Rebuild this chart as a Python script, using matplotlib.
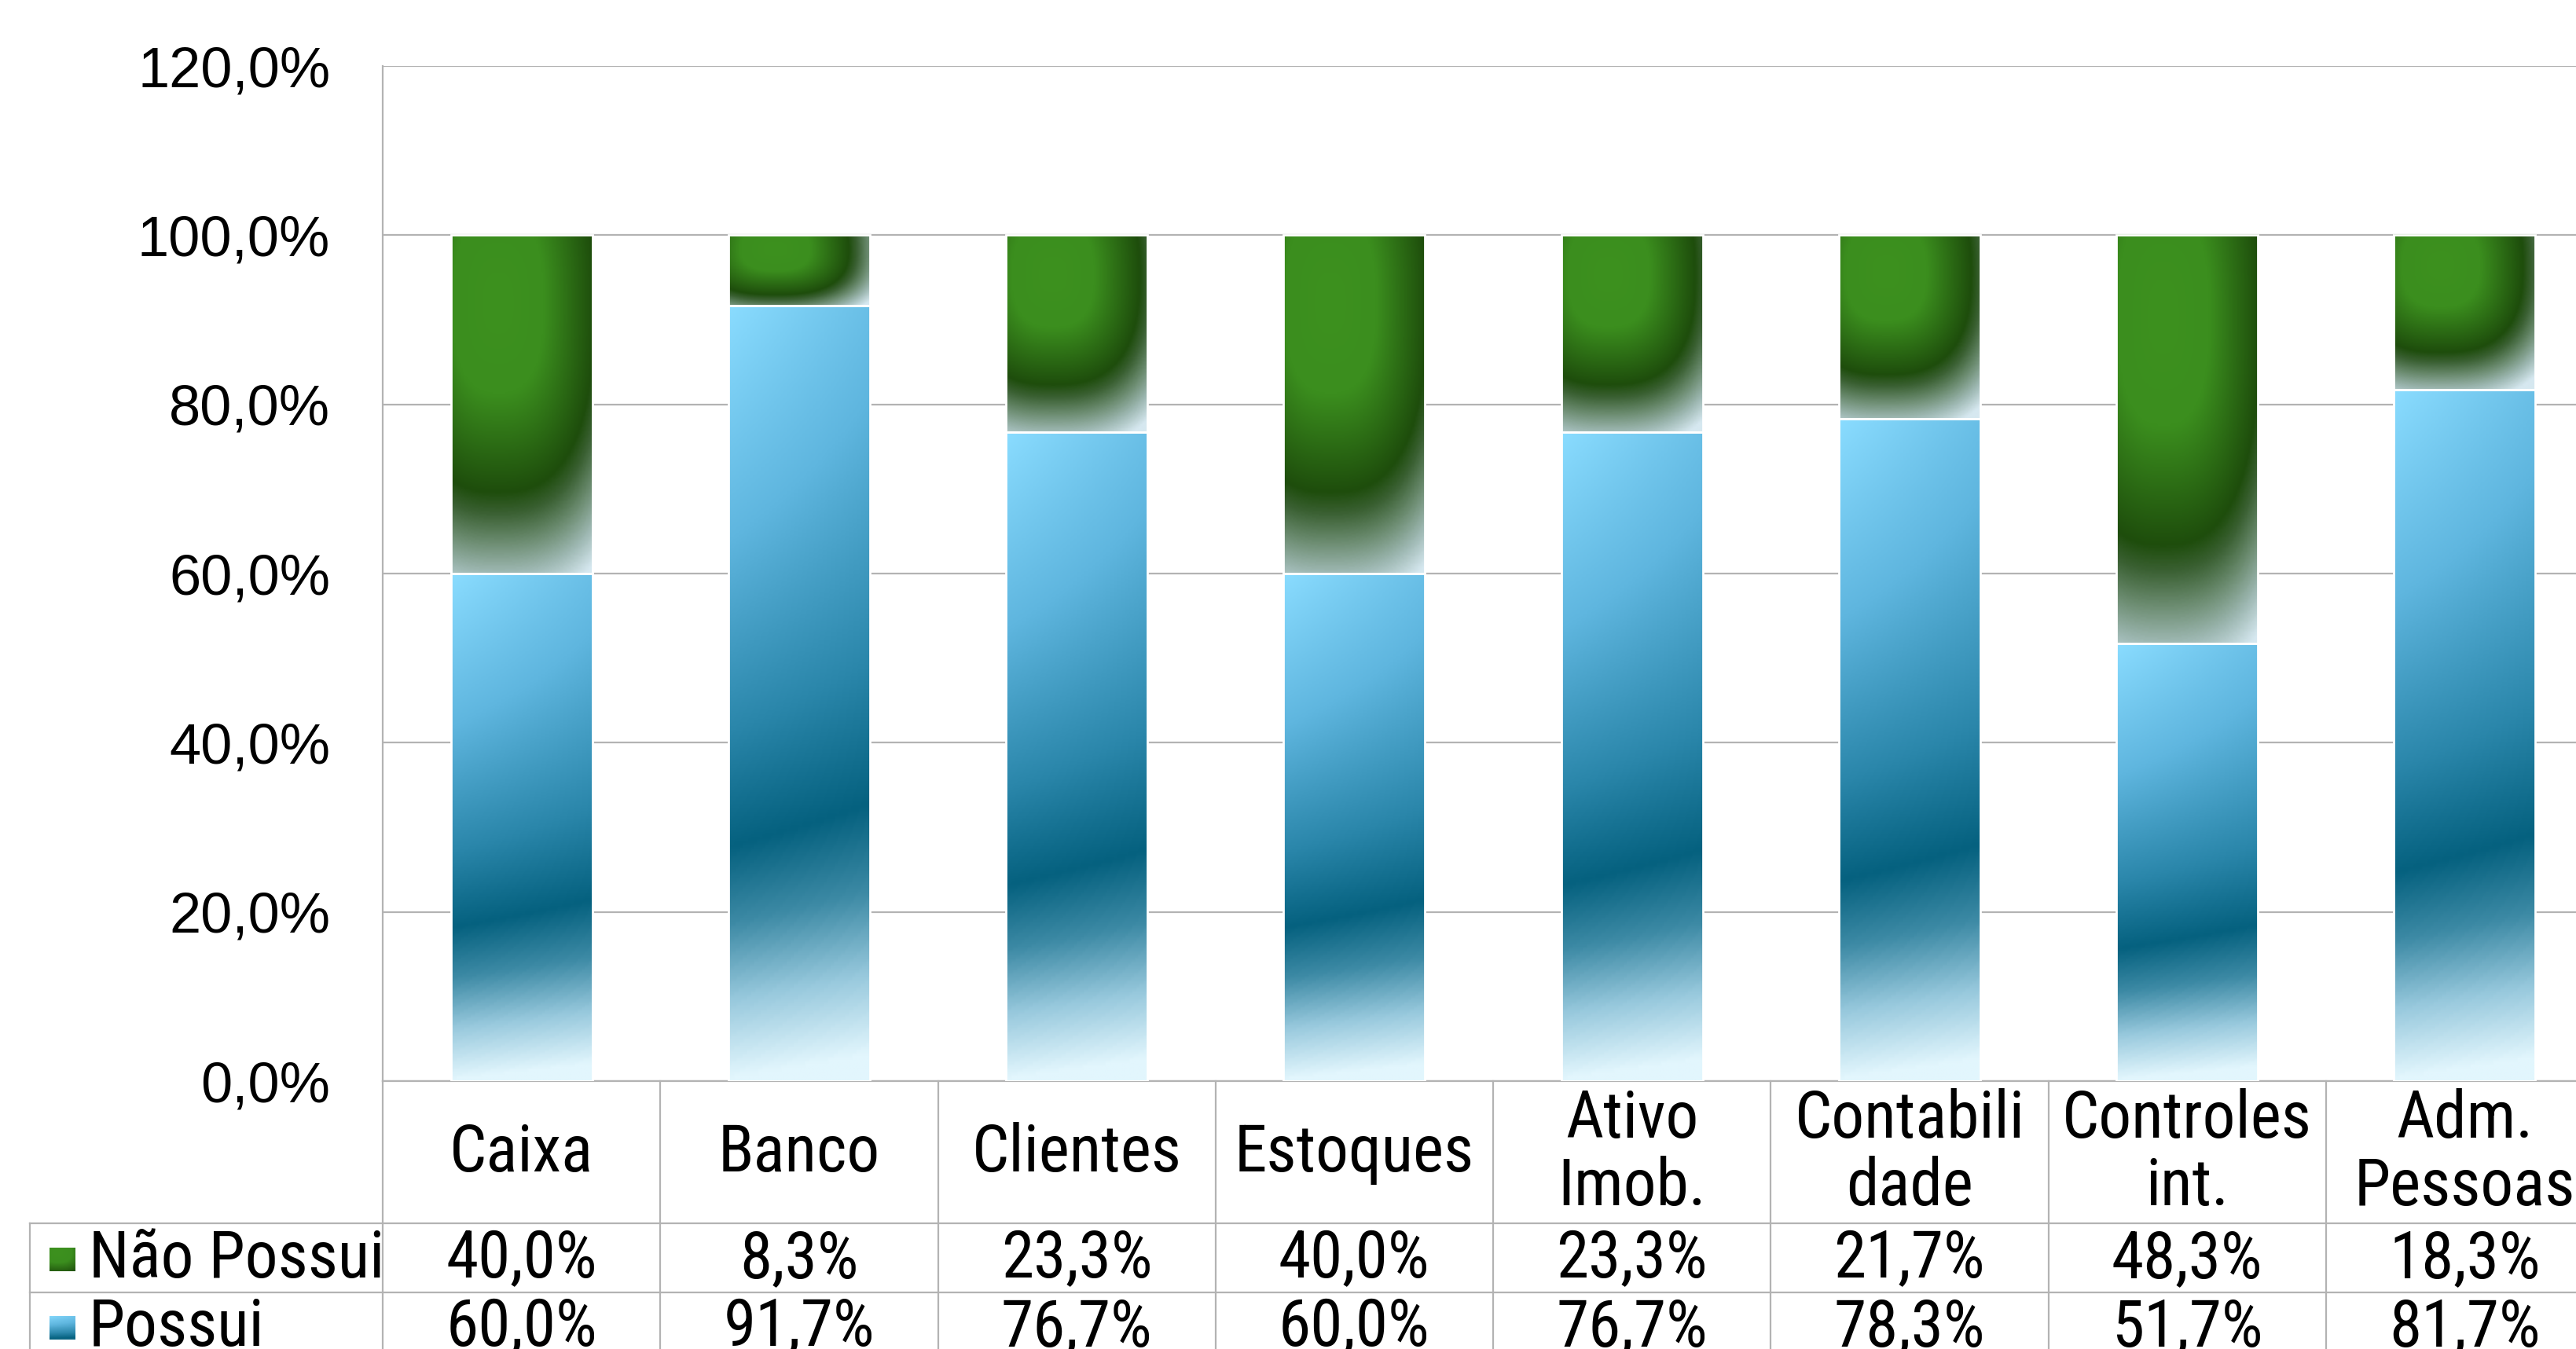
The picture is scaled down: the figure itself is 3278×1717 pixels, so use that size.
import numpy as np
import matplotlib
matplotlib.use("Agg")
import matplotlib.pyplot as plt
from matplotlib import font_manager as fm
from matplotlib.colors import LinearSegmentedColormap

# ---------------- data ----------------
categories = ["Caixa", "Banco", "Clientes", "Estoques", "Ativo\nImob.",
              "Contabili\ndade", "Controles\nint.", "Adm.\nPessoas"]
possui = [60.0, 91.7, 76.7, 60.0, 76.7, 78.3, 51.7, 81.7]
nao_possui = [40.0, 8.3, 23.3, 40.0, 23.3, 21.7, 48.3, 18.3]
series_names = ["Não Possui", "Possui"]
y_ticks = [0.0, 20.0, 40.0, 60.0, 80.0, 100.0, 120.0]

# ---------------- fonts ----------------
_installed = {f.name for f in fm.fontManager.ttflist}
_narrow_pref = ["Liberation Sans Narrow", "Nimbus Sans Narrow", "Arial Narrow",
                "Roboto Condensed", "Archivo Narrow", "PT Sans Narrow", "Liberation Sans"]
_nf = next(n for n in _narrow_pref if n in _installed)
NARROW = [_nf, "DejaVu Sans"]
REG = ["Liberation Sans", "DejaVu Sans"]
GRID = "#b3b3b3"
TFS = 60

blue_cmap = LinearSegmentedColormap.from_list("blue", [
    (0.00, "#8adcff"), (0.30, "#5fb6df"), (0.55, "#2a86aa"),
    (0.70, "#05617f"), (0.80, "#3d8aa5"), (0.90, "#98c9dd"), (1.00, "#e2f6fd")])
green_cmap = LinearSegmentedColormap.from_list("green", [
    (0.00, "#3d911f"), (0.30, "#3b8e1e"), (0.63, "#1e4d0c"),
    (0.70, "#3a6032"), (0.80, "#6d8d72"), (0.90, "#9fb9b4"), (1.00, "#d6e8f0")])


def blue_grad(h=200, w=100, tmax=1.0):
    v, u = np.mgrid[0:1:complex(h), 0:1:complex(w)]
    t = v + 0.2 * u * (1 - v) ** 2 + 0.03 * u
    return blue_cmap(np.clip(t, 0, 1) * tmax)


def green_grad(h=200, w=100, tmax=1.0, aspect=2.0):
    """Radial 'sphere' fill; aspect = bar pixel height / width."""
    v, u = np.mgrid[0:1:complex(h), 0:1:complex(w)]
    rx = 0.55 + 0.25 * min(1.0, aspect / 2.0)
    ry = 0.66 + 0.2 * max(0.0, 1.0 - aspect)
    p = 2.6
    d = (np.abs((u - 0.33) / rx) ** p + np.abs((v - 0.2) / ry) ** p) ** (1 / p)
    t = np.clip(d / 1.35, 0, 1)
    return green_cmap(t * tmax)


W, H = 3278, 1717
fig = plt.figure(figsize=(W / 100, H / 100), dpi=100)
ax_left, ax_right, ax_top, ax_bot = 487, 3313, 84, 1376
ax = fig.add_axes([ax_left / W, 1 - ax_bot / H, (ax_right - ax_left) / W,
                   (ax_bot - ax_top) / H])

n = len(categories)
x = np.arange(n)
bw = 0.51
px = (ax_right - ax_left) / n       # pixels per category
axh = ax_bot - ax_top

pos = np.array(possui) / 100
nao = np.array(nao_possui) / 100

bars_p = ax.bar(x, pos, width=bw, facecolor="none", edgecolor="white",
                linewidth=2, zorder=4)
bars_n = ax.bar(x, nao, width=bw, bottom=pos, facecolor="none",
                edgecolor="white", linewidth=2, zorder=4)

for b in bars_p:
    x0, y0 = b.get_x(), b.get_y()
    ax.imshow(blue_grad(), extent=(x0, x0 + b.get_width(), y0, y0 + b.get_height()),
              aspect="auto", zorder=3, interpolation="bilinear")
for b in bars_n:
    x0, y0 = b.get_x(), b.get_y()
    asp = (b.get_height() / 1.2 * axh) / (b.get_width() * px)
    ax.imshow(green_grad(aspect=asp),
              extent=(x0, x0 + b.get_width(), y0, y0 + b.get_height()),
              aspect="auto", zorder=3, interpolation="bilinear")

ax.set_xlim(-0.5, n - 0.5)
ax.set_ylim(0, 1.2)
ax.set_yticks(np.array(y_ticks) / 100)
ax.set_yticklabels([f"{v:.1f}%".replace(".", ",") for v in y_ticks],
                   family=REG, fontsize=52)
ax.tick_params(axis="y", length=0, pad=48)
ax.set_xticks([])
ax.grid(axis="y", color=GRID, linewidth=1.6, zorder=0)
ax.set_axisbelow(True)
for s in ["top", "right"]:
    ax.spines[s].set_visible(False)
for s in ["left", "bottom"]:
    ax.spines[s].set_color(GRID)
    ax.spines[s].set_linewidth(1.6)

# ---------------- data table ----------------
tr = ax.get_xaxis_transform()


def yfrac(p):
    return (ax_bot - p) / axh


row_hdr_bot = yfrac(1557)
row1_bot = yfrac(1645)
row2_bot = yfrac(1735)
label_left = -0.5 - (ax_left - 38) / px

lkw = dict(color=GRID, linewidth=1.6, transform=tr, clip_on=False, zorder=1)
for xb in np.arange(-0.5, n, 1.0):
    ax.plot([xb, xb], [0, row2_bot], **lkw)
ax.plot([label_left, label_left], [row_hdr_bot, row2_bot], **lkw)
for yb in [row_hdr_bot, row1_bot, row2_bot]:
    ax.plot([label_left, n - 0.5], [yb, yb], **lkw)

hdr_y = yfrac(1468)
r1_y = yfrac(1603)
r2_y = yfrac(1690)
for i, c in enumerate(categories):
    ax.text(x[i], hdr_y, c, transform=tr, ha="center", va="center",
            fontsize=TFS, family=NARROW, linespacing=1.1, clip_on=False)
    ax.text(x[i], r1_y, f"{nao_possui[i]:.1f}%".replace(".", ","), transform=tr,
            ha="center", va="center", fontsize=TFS, family=NARROW, clip_on=False)
    ax.text(x[i], r2_y, f"{possui[i]:.1f}%".replace(".", ","), transform=tr,
            ha="center", va="center", fontsize=TFS, family=NARROW, clip_on=False)

# legend keys and row labels (figure pixel coords)
key_x0, key_w, key_h = 63, 33, 31
for name, yc, grad, tm in [(series_names[0], 1603, green_grad, 0.6),
                           (series_names[1], 1690, blue_grad, 0.72)]:
    kax = fig.add_axes([key_x0 / W, 1 - (yc + key_h / 2) / H, key_w / W, key_h / H])
    kax.imshow(grad(40, 40, tm), aspect="auto", interpolation="bilinear")
    kax.axis("off")
    fig.text(113 / W, 1 - yc / H, name, ha="left", va="center", fontsize=TFS,
             family=NARROW)

fig.savefig("out.png", dpi=100, facecolor="white")
